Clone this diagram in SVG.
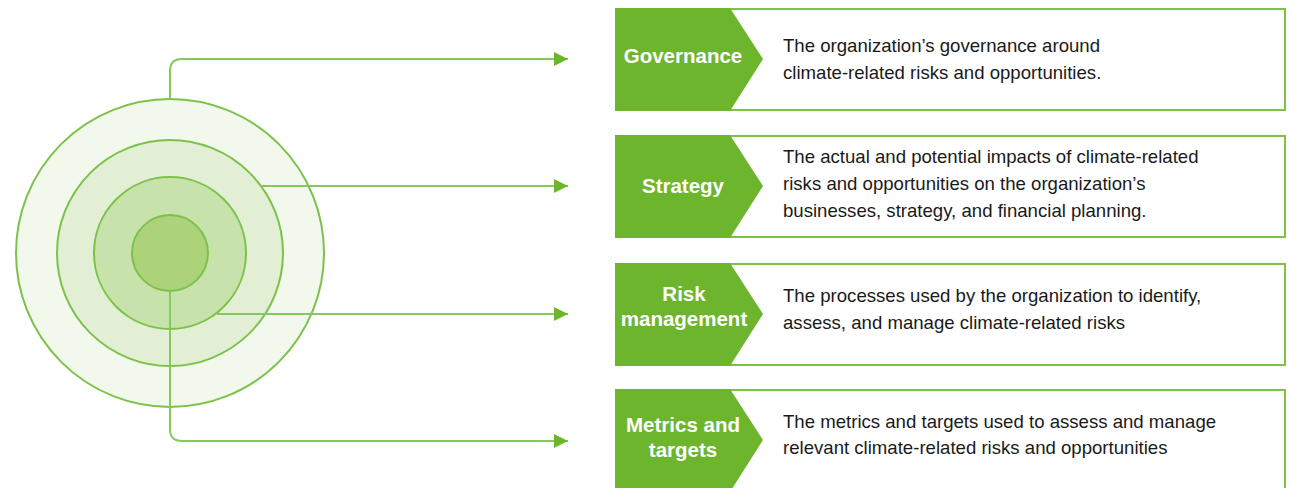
<svg xmlns="http://www.w3.org/2000/svg" width="1290" height="488" viewBox="0 0 1290 488">
<defs>
<style>
.ring{stroke:#7cc24a;stroke-width:2}
.conn{fill:none;stroke:#86c95a;stroke-width:2}
.box{fill:#fff;stroke:#7dc243;stroke-width:2}
.tab{fill:#6db52d}
.lbl{font-family:"Liberation Sans",Arial,sans-serif;font-weight:bold;font-size:20.5px;fill:#fff;text-anchor:middle}
.desc{font-family:"Liberation Sans",Arial,sans-serif;font-size:18.6px;fill:#1a1a1a}
</style>
<marker id="arr" viewBox="0 0 10 10" refX="10" refY="5" markerWidth="17" markerHeight="14" markerUnits="userSpaceOnUse" orient="auto">
<path d="M0,0 L10,5 L0,10 Z" fill="#6db52d"/>
</marker>
</defs>
<g id="target">
<circle class="ring" cx="170" cy="253" r="154" fill="#f2f8ec"/>
<circle class="ring" cx="170" cy="253" r="113" fill="#e2efd5"/>
<circle class="ring" cx="170" cy="253" r="76" fill="#c8e2ab"/>
<circle class="ring" cx="170" cy="253" r="38" fill="#acd27a"/>
</g>
<g id="connectors">
<path class="conn" d="M170,99 V71 Q170,59 182,59 H568" marker-end="url(#arr)"/>
<path class="conn" d="M262,186 H568" marker-end="url(#arr)"/>
<path class="conn" d="M217,314 H568" marker-end="url(#arr)"/>
<path class="conn" d="M170,291 V429 Q170,441 182,441 H568" marker-end="url(#arr)"/>
</g>
<g id="governance">
<rect class="box" x="616" y="9" width="669" height="101"/>
<polygon class="tab" points="615,8 730,8 763,59 730,111 615,111"/>
<text class="lbl" x="683" y="63">Governance</text>
<text class="desc" x="783" y="52">The organization’s governance around</text>
<text class="desc" x="783" y="79">climate-related risks and opportunities.</text>
</g>
<g id="strategy">
<rect class="box" x="616" y="136" width="669" height="101"/>
<polygon class="tab" points="615,135 730,135 763,186 730,238 615,238"/>
<text class="lbl" x="683" y="193">Strategy</text>
<text class="desc" x="783" y="163">The actual and potential impacts of climate-related</text>
<text class="desc" x="783" y="190">risks and opportunities on the organization’s</text>
<text class="desc" x="783" y="217">businesses, strategy, and financial planning.</text>
</g>
<g id="risk">
<rect class="box" x="616" y="264" width="669" height="101"/>
<polygon class="tab" points="615,263 730,263 763,314 730,366 615,366"/>
<text class="lbl" x="684" y="301">Risk</text>
<text class="lbl" x="684" y="326">management</text>
<text class="desc" x="783" y="302">The processes used by the organization to identify,</text>
<text class="desc" x="783" y="329">assess, and manage climate-related risks</text>
</g>
<g id="metrics">
<rect class="box" x="616" y="390" width="669" height="110"/>
<polygon class="tab" points="615,389 730,389 763,440 730,492 615,492"/>
<text class="lbl" x="683" y="432">Metrics and</text>
<text class="lbl" x="683" y="457">targets</text>
<text class="desc" x="783" y="428">The metrics and targets used to assess and manage</text>
<text class="desc" x="783" y="454">relevant climate-related risks and opportunities</text>
</g>
</svg>
